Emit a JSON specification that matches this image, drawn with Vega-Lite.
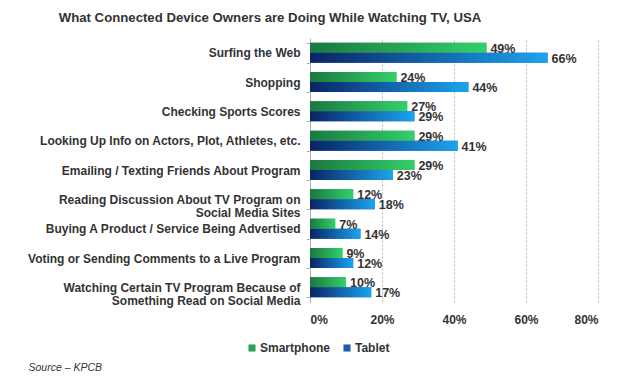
{
  "$schema": "https://vega.github.io/schema/vega-lite/v6.json",
  "autosize": "none",
  "width": 288,
  "height": 264,
  "padding": {"left": 310, "top": 38, "right": 29, "bottom": 81},
  "background": "white",
  "config": {
    "font": "Liberation Sans",
    "view": {"stroke": null}
  },
  "title": {
    "text": "What Connected Device Owners are Doing While Watching TV, USA",
    "fontSize": 13.2,
    "fontWeight": "bold",
    "color": "#333333",
    "anchor": "middle",
    "frame": "group",
    "dx": -184,
    "offset": 7
  },
  "data": {
    "values": [
      {"activity": "Surfing the Web", "device": "Smartphone", "value": 0.49},
      {"activity": "Surfing the Web", "device": "Tablet", "value": 0.66},
      {"activity": "Shopping", "device": "Smartphone", "value": 0.24},
      {"activity": "Shopping", "device": "Tablet", "value": 0.44},
      {"activity": "Checking Sports Scores", "device": "Smartphone", "value": 0.27},
      {"activity": "Checking Sports Scores", "device": "Tablet", "value": 0.29},
      {"activity": "Looking Up Info on Actors, Plot, Athletes, etc.", "device": "Smartphone", "value": 0.29},
      {"activity": "Looking Up Info on Actors, Plot, Athletes, etc.", "device": "Tablet", "value": 0.41},
      {"activity": "Emailing / Texting Friends About Program", "device": "Smartphone", "value": 0.29},
      {"activity": "Emailing / Texting Friends About Program", "device": "Tablet", "value": 0.23},
      {"activity": "Reading Discussion About TV Program on Social Media Sites", "device": "Smartphone", "value": 0.12},
      {"activity": "Reading Discussion About TV Program on Social Media Sites", "device": "Tablet", "value": 0.18},
      {"activity": "Buying A Product / Service Being Advertised", "device": "Smartphone", "value": 0.07},
      {"activity": "Buying A Product / Service Being Advertised", "device": "Tablet", "value": 0.14},
      {"activity": "Voting or Sending Comments to a Live Program", "device": "Smartphone", "value": 0.09},
      {"activity": "Voting or Sending Comments to a Live Program", "device": "Tablet", "value": 0.12},
      {"activity": "Watching Certain TV Program Because of Something Read on Social Media", "device": "Smartphone", "value": 0.10},
      {"activity": "Watching Certain TV Program Because of Something Read on Social Media", "device": "Tablet", "value": 0.17}
    ]
  },
  "encoding": {
    "y": {
      "field": "activity",
      "type": "nominal",
      "sort": [
        "Surfing the Web",
        "Shopping",
        "Checking Sports Scores",
        "Looking Up Info on Actors, Plot, Athletes, etc.",
        "Emailing / Texting Friends About Program",
        "Reading Discussion About TV Program on Social Media Sites",
        "Buying A Product / Service Being Advertised",
        "Voting or Sending Comments to a Live Program",
        "Watching Certain TV Program Because of Something Read on Social Media"
      ],
      "scale": {"paddingInner": 0.32, "paddingOuter": 0.16},
      "axis": {
        "title": null,
        "domainColor": "#b0b0b0",
        "tickColor": "#b0b0b0",
        "tickSize": 4,
        "tickBand": "extent",
        "labelPadding": 6,
        "labelLimit": 0,
        "labelFontSize": 12,
        "labelFontWeight": "bold",
        "labelColor": "#333333",
        "labelLineHeight": 13,
        "labelExpr": "datum.value == 'Reading Discussion About TV Program on Social Media Sites' ? ['Reading Discussion About TV Program on', 'Social Media Sites'] : datum.value == 'Watching Certain TV Program Because of Something Read on Social Media' ? ['Watching Certain TV Program Because of', 'Something Read on Social Media'] : datum.label",
        "encode": {
          "labels": {
            "update": {
              "align": {"signal": "length(datum.value) > 50 ? 'center' : 'right'"},
              "dx": {"signal": "length(datum.value) > 50 ? -106 : 0"}
            }
          }
        }
      }
    },
    "x": {
      "field": "value",
      "type": "quantitative",
      "scale": {"domain": [0, 0.8], "nice": false},
      "axis": {
        "values": [0, 0.2, 0.4, 0.6, 0.8],
        "format": ".0%",
        "domain": false,
        "ticks": false,
        "tickSize": 0,
        "grid": true,
        "gridColor": "#b5b5b5",
        "gridDash": [2, 2],
        "labelPadding": 12,
        "labelFontSize": 12,
        "labelFontWeight": "bold",
        "labelColor": "#333333",
        "title": "Source \u2013 KPCB",
        "titleFontStyle": "italic",
        "titleFontWeight": "normal",
        "titleFontSize": 10.5,
        "titleColor": "#333333",
        "titleAlign": "left",
        "titleBaseline": "middle",
        "titleX": -282,
        "titleY": 65
      }
    },
    "yOffset": {"field": "device", "type": "nominal"}
  },
  "layer": [
    {
      "mark": {"type": "bar"},
      "encoding": {
        "color": {
          "field": "device",
          "type": "nominal",
          "scale": {"domain": ["Smartphone", "Tablet"], "range": ["#2aa052", "#1f5cab"]},
          "legend": {
            "title": null,
            "orient": "none",
            "direction": "horizontal",
            "legendX": -64,
            "legendY": 304,
            "symbolType": "square",
            "symbolSize": 50,
            "symbolStrokeWidth": 0,
            "labelFontSize": 12,
            "labelFontWeight": "bold",
            "labelColor": "#333333",
            "labelOffset": 2,
            "columnPadding": 10
          }
        }
      }
    },
    {
      "transform": [{"filter": "datum.device == 'Smartphone'"}],
      "mark": {
        "type": "bar",
        "color": {
          "gradient": "linear", "x1": 0, "x2": 1, "y1": 0, "y2": 0,
          "stops": [{"offset": 0, "color": "#1a7840"}, {"offset": 1, "color": "#33d06a"}]
        }
      }
    },
    {
      "transform": [{"filter": "datum.device == 'Tablet'"}],
      "mark": {
        "type": "bar",
        "color": {
          "gradient": "linear", "x1": 0, "x2": 1, "y1": 0, "y2": 0,
          "stops": [{"offset": 0, "color": "#0a2464"}, {"offset": 1, "color": "#1ba4ee"}]
        }
      }
    },
    {
      "mark": {"type": "text", "align": "left", "baseline": "middle", "dx": 4, "dy": 1, "fontSize": 12.5, "fontWeight": "bold", "color": "#333333"},
      "encoding": {
        "text": {"field": "value", "type": "quantitative", "format": ".0%"}
      }
    }
  ]
}
